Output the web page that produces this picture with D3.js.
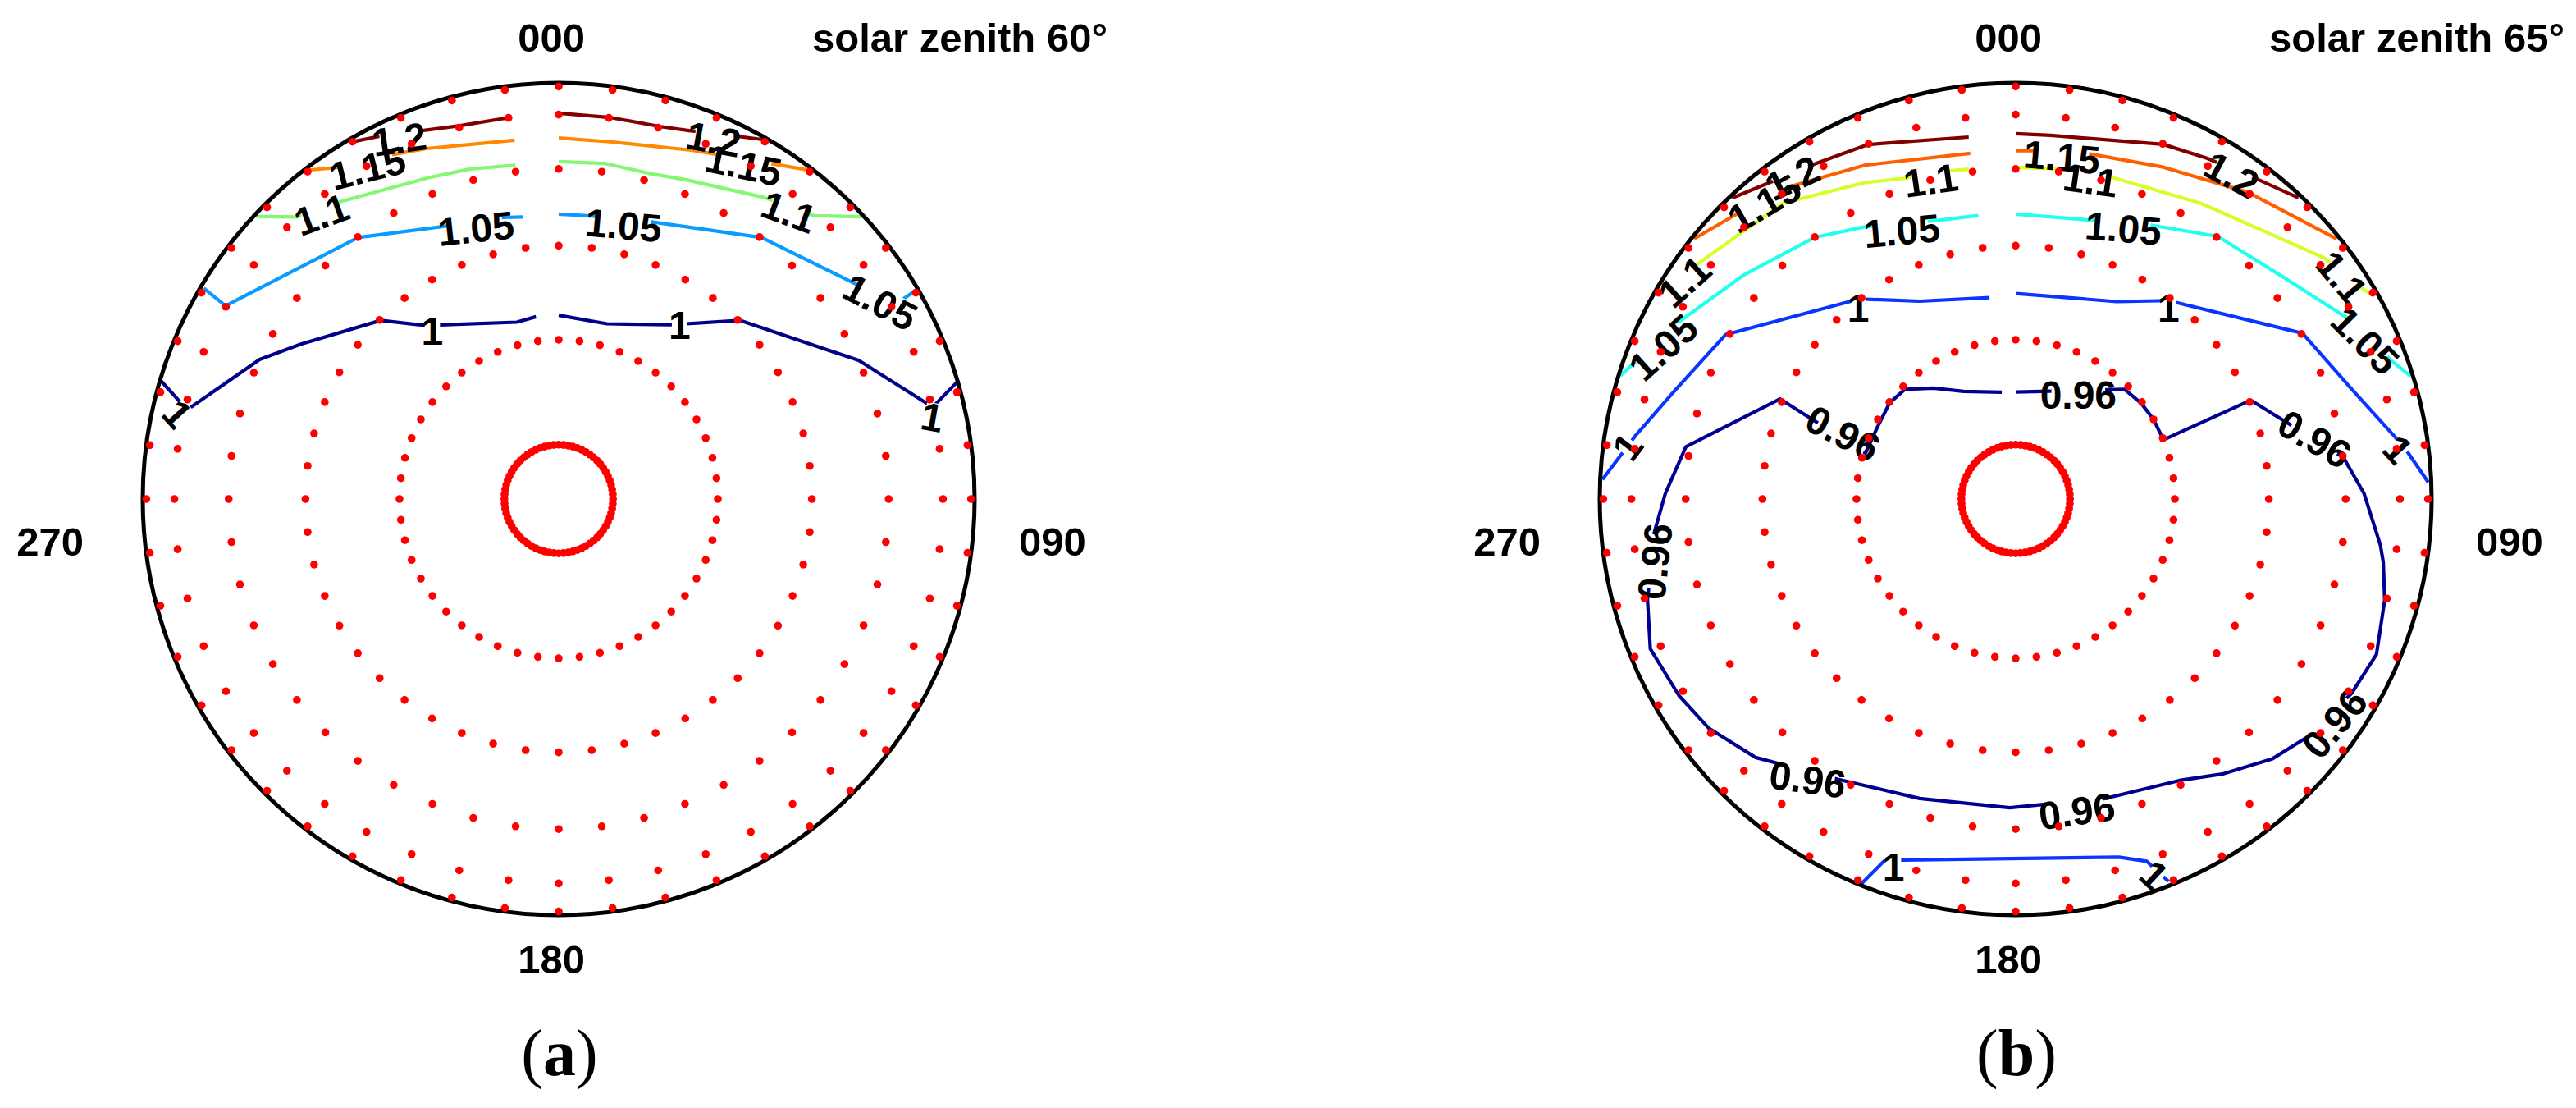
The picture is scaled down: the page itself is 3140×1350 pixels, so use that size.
<!DOCTYPE html>
<html><head><meta charset="utf-8">
<script src="https://cdn.jsdelivr.net/npm/d3@7"></script>
<style>
body{margin:0;background:#fff}
svg{display:block}
text{font-family:"Liberation Sans",Arial,sans-serif;font-weight:bold;fill:#000}
</style>
</head><body>
<svg id="chart" width="3140" height="1350"></svg>
<script>
// ---------------- DATA (azimuth deg, zenith deg) ----------------
const ringZenith = [7.5, 22.5, 37.5, 52.5, 67.5, 82.5];   // sampling rings
const ringAzimuthStep = [5, 7.5, 7.5, 7.5, 7.5, 7.5];      // sampling step per ring
const tickLabels = ["000", "090", "180", "270"];
const titles = ["solar zenith 60\u00B0", "solar zenith 65\u00B0"];
const panelLetters = ["a", "b"];

// Panel (a) levels / colours
const levelsA = [1, 1.05, 1.1, 1.15, 1.2];
const colorsA = ["#000088", "#0a9bff", "#84f872", "#ff8800", "#800000"];

// Panel (a) contour lines
const a_120_L = [[329.8,83.0],[333.7,76.5],[339.9,70.6],[345.2,68.1],[352.8,67.6]];
const a_120_R = [[0,68.0],[7.6,67.7],[15.3,68.1],[19.5,69.9],[26.4,76.6],[30.4,88]];
const a_115_L = [[322.5,84.7],[327.2,71.8],[334.4,66.7],[339.3,64.2],[353.0,60.3]];
const a_115_R = [[0,60.2],[8.6,60.2],[20.9,63.8],[33.5,74.2],[37.5,84.5]];
const a_110_L = [[313.1,83.5],[317.1,67.7],[323.9,62.3],[338.1,56.4],[345.0,55.2],[352.6,54.0]];
const a_110_R = [[0,54.2],[7.8,54.5],[15.4,54.3],[21.8,55.7],[34.3,61.3],[42.0,66.4],[47.0,84.1]];
const a_105_L = [[300.7,83.1],[300.1,67.8],[322.5,52.4],[339.1,44.8],[348.8,43.6],[352.7,43.1]];
const a_105_R = [[0,43.2],[9.2,43.4],[18.9,44.7],[37.8,52.7],[55.4,63.2],[60.0,68.0],[59.7,87.2]];
const a_100_L = [[286.5,85.1],[283.5,66.7],[295.0,52.5],[301.0,46.3],[315.1,37.3],[321.7,32.2],[325.8,30.4],[346.7,25.9],[352.9,26.2]];
const a_100_R = [[0,26.2],[15.4,25.9],[32.6,29.8],[45.4,37.7],[65.2,52.6],[76.2,67.8],[73.6,89]];

// Panel (a) inline labels: [text, azimuth, zenith, rotation]
const labelsA = [
  ["1.2",336.1,71.2,-8],["1.15",330.0,66.8,-14],["1.1",320.2,63.0,-20],
  ["1.05",343.0,42.9,-6],["1",323.1,30.4,0],["1",282.6,69.8,48],
  ["1.2",23.3,70.4,10],["1.15",29.0,66.6,12],["1.1",38.7,62.3,20],
  ["1.05",13.3,42.6,5],["1.05",58.5,65.1,28],["1",34.8,30.6,0],["1",77.6,66.9,10]
];

// Panel (b) levels / colours
const levelsB = [0.96, 1, 1.05, 1.1, 1.15, 1.2];
const colorsB = ["#000090", "#0a34ff", "#22fff0", "#d6ff2a", "#ff5f00", "#800000"];

// Panel (b) contour lines
const b_120_L = [[316.7,83.7],[329.2,69.8],[337.3,67.4],[352.6,61.3]];
const b_120_R = [[0,61.4],[5.5,61.4],[22.6,67.4],[29.3,69.9],[36.9,74.3],[43.2,83.2]];
const b_115_L = [[309.0,83.9],[315.1,73.9],[324.7,67.4],[335.7,61.7],[352.5,56.9]];
const b_115_R = [[0,56.8],[4.4,57.1],[12.0,58.0],[24.0,60.8],[37.1,67.6],[51.0,83.4]];
const b_110_L = [[300.4,81.2],[306.6,71.8],[321.8,64.8],[334.5,57.4],[341.1,54.6],[349.1,53.5],[351.9,53.2]];
const b_110_R = [[0,52.8],[8.4,53.3],[16.5,53.8],[32.1,57.0],[52.0,70.3],[59.2,78.0],[60.3,82.1]];
const b_105_L = [[287.3,84.8],[297.3,66.7],[309.6,57.8],[322.4,52.5],[331.0,48.4],[343.5,44.2],[352.5,43.4]];
const b_105_R = [[0,43.2],[14.2,43.8],[26.5,47.3],[37.6,52.8],[50.4,56.7],[62.1,66.1],[70.0,74.7],[72.7,84.0]];
const b_100_L = [[272.7,84.1],[279.4,68.0],[287.4,59.5],[299.5,53.3],[322.0,37.6],[334.1,31.9],[352.6,29.2]];
const b_100_R = [[0,29.6],[27.1,32.2],[37.6,37.0],[60.0,52.8],[71.9,58.2],[82.3,70.3],[87.7,83.2]];
const b_100_S = [[201.9,86.6],[200.0,67.8],[197.3,65.3],[180.9,59.8],[163.9,63.6],[160.1,67.8],[158.2,81.9]];
const b_096 = [[352.6,15.0],[334.1,16.7],[323.4,19.4],[314.7,22.0],[307.3,22.4],[297.3,22.0],[287.0,22.2],
  [293.0,38.0],[279.0,53.4],[270.9,57.4],[264.8,60.7],[254.7,66.6],[247.7,71.7],[239.7,69.6],[233.2,67.0],
  [225.2,61.8],[212.4,52.9],[197.8,49.1],[181.1,47.9],[163.3,48.7],[149.8,51.5],[142.9,55.9],[135.3,61.4],
  [129.1,64.9],[120.0,68.9],[113.3,70.8],[105.3,66.9],[99.7,63.7],[97.2,62.1],[89.1,56.9],[82.8,52.6],
  [67.2,37.8],[68.2,22.5],[60.0,22.5],[52.6,22.3],[44.8,21.8],[0,14.9]];

// Panel (b) inline labels: [text, azimuth, zenith, rotation]
const labelsB = [
  ["1.2",325.2,70.2,-25],["1.15",319.6,69.0,-30],["1.1",303.3,72.4,-42],["1.05",293.3,67.4,-42],
  ["1.1",345.1,52.5,-8],["1.05",337.0,44.5,-5],["1",320.6,36.6,0],["1",277.7,70.5,-53],
  ["0.96",290.9,26.4,27],
  ["1.15",7.7,56.1,5],["1.1",13.2,52.0,8],["1.2",33.7,69.6,28],["1.05",21.7,44.5,5],
  ["1.1",55.8,71.6,50],["1.05",65.6,67.4,45],["1",38.6,36.1,0],["1",82.6,68.0,48],
  ["0.96",31.0,17.0,0],["0.96",78.6,47.2,30],["0.96",260.2,61.8,-84],["0.96",216.6,57.0,8],
  ["0.96",168.9,49.8,-8],["0.96",125.1,69.4,-50],["1",198.4,68.6,0],["1",159.7,74.4,43]
];

const contoursA = [
  {level:1.2, pts:a_120_L},{level:1.2, pts:a_120_R},
  {level:1.15,pts:a_115_L},{level:1.15,pts:a_115_R},
  {level:1.1, pts:a_110_L},{level:1.1, pts:a_110_R},
  {level:1.05,pts:a_105_L},{level:1.05,pts:a_105_R},
  {level:1,   pts:a_100_L},{level:1,   pts:a_100_R}
];
const contoursB = [
  {level:1.2, pts:b_120_L},{level:1.2, pts:b_120_R},
  {level:1.15,pts:b_115_L},{level:1.15,pts:b_115_R},
  {level:1.1, pts:b_110_L},{level:1.1, pts:b_110_R},
  {level:1.05,pts:b_105_L},{level:1.05,pts:b_105_R},
  {level:1,   pts:b_100_L},{level:1,   pts:b_100_R},{level:1, pts:b_100_S},
  {level:0.96,pts:b_096}
];

// ---------------- DRAWING ----------------
const svg = d3.select("#chart");
const R = 507;
const panels = [
  {cx:681,  cy:608, title:titles[0], letter:panelLetters[0], lines:contoursA, labels:labelsA, levels:levelsA, colors:colorsA},
  {cx:2457, cy:608, title:titles[1], letter:panelLetters[1], lines:contoursB, labels:labelsB, levels:levelsB, colors:colorsB}
];
const angle = d3.scaleLinear().domain([0, 360]).range([0, 2 * Math.PI]);
const radius = d3.scaleLinear().domain([0, 1]).range([0, R]);
const toRad = d => d * Math.PI / 180;
const defs = svg.append("defs");

panels.forEach((P, pi) => {
  const g = svg.append("g").attr("transform", `translate(${P.cx},${P.cy})`);
  const proj = ([az, z]) => {
    const r = radius(Math.sin(toRad(z))), a = angle(az);
    return [r * Math.sin(a), -r * Math.cos(a)];
  };
  const color = d3.scaleOrdinal().domain(P.levels).range(P.colors);

  defs.append("clipPath").attr("id", `clip${pi}`)
    .append("circle").attr("r", radius(1) + 1);

  const lineG = g.append("g").attr("clip-path", `url(#clip${pi})`);
  const labG = g.append("g");

  const labs = labG.selectAll("text").data(P.labels).join("text")
    .attr("transform", d => { const [x, y] = proj([d[1], d[2]]); return `translate(${x},${y}) rotate(${d[3]})`; })
    .attr("text-anchor", "middle").attr("dy", "0.36em").attr("font-size", 48)
    .text(d => d[0]);

  // masks to break lines under their labels
  P.levels.forEach((lv, li) => {
    const m = defs.append("mask").attr("id", `m${pi}_${li}`).attr("maskUnits", "userSpaceOnUse")
      .attr("x", -800).attr("y", -800).attr("width", 1600).attr("height", 1600);
    m.append("rect").attr("x", -800).attr("y", -800).attr("width", 1600).attr("height", 1600).attr("fill", "white");
    labs.filter(d => +d[0] === lv).each(function (d) {
      const w = this.getComputedTextLength() * 0.7;
      const [x, y] = proj([d[1], d[2]]);
      m.append("rect").attr("x", -w / 2).attr("y", -17).attr("width", w).attr("height", 34)
        .attr("transform", `translate(${x},${y}) rotate(${d[3]})`).attr("fill", "black");
    });
  });

  const line = d3.line();
  lineG.selectAll("path").data(P.lines).join("path")
    .attr("d", d => line(d.pts.map(proj)))
    .attr("fill", "none")
    .attr("stroke", d => color(d.level))
    .attr("stroke-width", 4.2)
    .attr("stroke-linejoin", "round")
    .attr("mask", d => `url(#m${pi}_${P.levels.indexOf(d.level)})`);

  // outer circle
  g.append("circle").attr("r", radius(1)).attr("fill", "none").attr("stroke", "#000").attr("stroke-width", 5);

  // sampling dots
  const dots = [];
  ringZenith.forEach((z, i) => d3.range(0, 360, ringAzimuthStep[i]).forEach(a => dots.push([a, z])));
  g.append("g").selectAll("circle").data(dots).join("circle")
    .attr("cx", d => proj(d)[0]).attr("cy", d => proj(d)[1])
    .attr("r", 4.8).attr("fill", "#ff0000");

  // azimuth tick labels
  const fs = 49;
  g.append("text").attr("x", -9).attr("y", -545).attr("text-anchor", "middle").attr("font-size", fs).text(tickLabels[0]);
  g.append("text").attr("x", 561).attr("y", 69).attr("text-anchor", "start").attr("font-size", fs).text(tickLabels[1]);
  g.append("text").attr("x", -9).attr("y", 578).attr("text-anchor", "middle").attr("font-size", fs).text(tickLabels[2]);
  g.append("text").attr("x", -579).attr("y", 69).attr("text-anchor", "end").attr("font-size", fs).text(tickLabels[3]);
  // title
  g.append("text").attr("x", 309).attr("y", -545).attr("text-anchor", "start").attr("font-size", fs).text(P.title);
  // panel letter
  const lt = g.append("text").attr("x", 1).attr("y", 702).attr("text-anchor", "middle")
    .attr("font-size", 80).style("font-family", "'Liberation Serif','Times New Roman',serif").style("font-weight", "normal");
  lt.append("tspan").text("(");
  lt.append("tspan").style("font-weight", "bold").text(P.letter);
  lt.append("tspan").text(")");
});
</script>
</body></html>
